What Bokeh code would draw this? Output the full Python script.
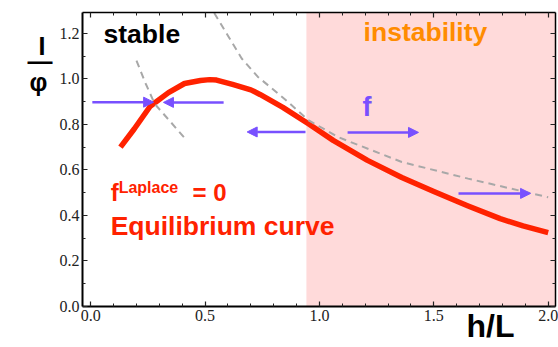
from bokeh.plotting import figure
from bokeh.models import (Range1d, LinearAxis, FixedTicker, BoxAnnotation, Arrow, NormalHead,
                          ColumnDataSource, Label, PrintfTickFormatter, CustomJSTickFormatter,
                          CustomLabelingPolicy)
from bokeh.embed import file_html
from bokeh.resources import INLINE

# ---- data ----
eq_x = [0.13, 0.19, 0.26, 0.34, 0.41, 0.48, 0.52, 0.55, 0.62, 0.70, 0.74, 0.84, 0.95,
        1.06, 1.21, 1.36, 1.50, 1.65, 1.79, 1.89, 2.00]
eq_y = [0.70, 0.78, 0.88, 0.94, 0.98, 0.993, 0.997, 0.995, 0.976, 0.952, 0.932, 0.875, 0.804,
        0.73, 0.642, 0.567, 0.505, 0.442, 0.386, 0.354, 0.325]

dash1_x = [0.20, 0.24, 0.28, 0.35, 0.42]
dash1_y = [1.08, 0.98, 0.89, 0.81, 0.73]

dash2_x = [0.54, 0.60, 0.66, 0.73, 0.85, 0.95, 1.08, 1.36, 1.65, 2.00]
dash2_y = [1.29, 1.19, 1.09, 1.01, 0.91, 0.82, 0.745, 0.635, 0.562, 0.48]

arrow_x0 = [0.007, 0.581, 0.939, 1.123, 1.608]
arrow_x1 = [0.275, 0.318, 0.684, 1.433, 1.923]
arrow_y = [0.898, 0.897, 0.767, 0.765, 0.497]

instability_start = 0.943

x_ticks = [0.0, 0.5, 1.0, 1.5, 2.0]
x_minor = [0.1, 0.2, 0.3, 0.4, 0.6, 0.7, 0.8, 0.9, 1.1, 1.2, 1.3, 1.4, 1.6, 1.7, 1.8, 1.9]
y_ticks = [0.0, 0.2, 0.4, 0.6, 0.8, 1.0, 1.2]
y_minor = [0.1, 0.3, 0.5, 0.7, 0.9, 1.1]

x_title = ["h/L"]
y_title_parts = ["\u03c6\u2009", "\u2014", "I\u00a0"]   # bottom to top: phi, fraction bar, I

RED = "#FF2200"
PURPLE = "#7850FF"
ORANGE = "#FF8C00"
PINK = "#FFDADA"
GRAY = "#A8A8A8"

p = figure(width=558, height=347, output_backend="svg", toolbar_location=None,
           x_range=Range1d(-0.036, 2.032), y_range=Range1d(0, 1.292),
           min_border_left=82, min_border_right=3, min_border_top=12, min_border_bottom=41,
           x_axis_type=None, y_axis_type=None)
p.outline_line_color = None
p.background_fill_color = "white"
p.border_fill_color = "white"


def make_axis(ticks, minor, show_labels, lw, standoff):
    ax = LinearAxis(ticker=FixedTicker(ticks=ticks, minor_ticks=minor),
                    formatter=PrintfTickFormatter(format="%.1f"))
    ax.axis_line_color = "black"
    ax.axis_line_width = lw
    ax.major_tick_in = 5
    ax.major_tick_out = 0
    ax.minor_tick_in = 3
    ax.minor_tick_out = 0
    ax.major_tick_line_color = "#222222"
    ax.minor_tick_line_color = "#222222"
    ax.major_tick_line_width = 1.2
    ax.minor_tick_line_width = 1
    if show_labels:
        ax.major_label_text_font = "Liberation Serif"
        ax.major_label_text_font_size = "16px"
        ax.major_label_text_color = "#222222"
        ax.major_label_standoff = standoff
    else:
        ax.major_label_policy = CustomLabelingPolicy(code="return new Set()")
        ax.major_label_text_font_size = "0px"
        ax.major_label_standoff = 0
    return ax


def title_axis(pos, labels, size, standoff, font, style):
    ax = LinearAxis(ticker=FixedTicker(ticks=pos, minor_ticks=[]),
                    formatter=CustomJSTickFormatter(args=dict(labels=labels),
                                                    code="return labels[index]"))
    ax.axis_line_color = None
    ax.major_tick_line_color = None
    ax.minor_tick_line_color = None
    ax.major_tick_in = 0
    ax.major_tick_out = 0
    ax.minor_tick_in = 0
    ax.minor_tick_out = 0
    ax.major_label_text_font = font
    ax.major_label_text_font_style = style
    ax.major_label_text_font_size = f"{size}px"
    ax.major_label_text_color = "black"
    ax.major_label_standoff = standoff
    return ax


p.add_layout(make_axis(x_ticks, x_minor, True, 2, 3), "below")
p.add_layout(make_axis(y_ticks, y_minor, True, 2, 3), "left")
p.add_layout(make_axis(x_ticks, x_minor, False, 1.5, 0), "above")
p.add_layout(make_axis(y_ticks, y_minor, False, 1.5, 0), "right")

# axis titles drawn as the labels of extra tick-less axes (outside the frame)
p.add_layout(title_axis([1.748], x_title, 32, -16, "Liberation Sans", "bold"), "below")
p.add_layout(title_axis([0.987, 1.077, 1.143], y_title_parts, 25, 4, "Liberation Sans", "bold"),
             "left")

# instability region
p.add_layout(BoxAnnotation(left=instability_start, fill_color=PINK, fill_alpha=1.0,
                           line_color=None, level="underlay"))

# equilibrium curve
p.line(eq_x, eq_y, line_color=RED, line_width=5.5, line_join="round", line_cap="butt")

# dashed gray curves
p.line(dash1_x, dash1_y, line_color=GRAY, line_width=2, line_dash="7 5")
p.line(dash2_x, dash2_y, line_color=GRAY, line_width=2, line_dash="7 5")

# force arrows
arrow_src = ColumnDataSource(dict(x0=arrow_x0, x1=arrow_x1, y=arrow_y))
p.add_layout(Arrow(end=NormalHead(size=10, fill_color=PURPLE, line_color=PURPLE, line_width=1),
                   x_start="x0", y_start="y", x_end="x1", y_end="y", source=arrow_src,
                   line_color=PURPLE, line_width=2.5))


def lab(x, y, text, size, color, font="Liberation Sans", style="bold", align="left",
        baseline="alphabetic"):
    p.add_layout(Label(x=x, y=y, text=text, text_font_size=f"{size}px", text_color=color,
                       text_font=font, text_font_style=style, text_align=align,
                       text_baseline=baseline))


lab(0.056, 1.197, "stable", 26.5, "black")
lab(1.193, 1.208, "instability", 26.5, ORANGE)
lab(1.188, 0.878, "f", 27, PURPLE)
lab(0.087, 0.499, "f", 24, RED)
lab(0.122, 0.522, "Laplace", 16, RED)
lab(0.445, 0.499, "= 0", 24, RED)
lab(0.087, 0.352, "Equilibrium curve", 26.5, RED)

open("out.html", "w").write(file_html(p, INLINE))
